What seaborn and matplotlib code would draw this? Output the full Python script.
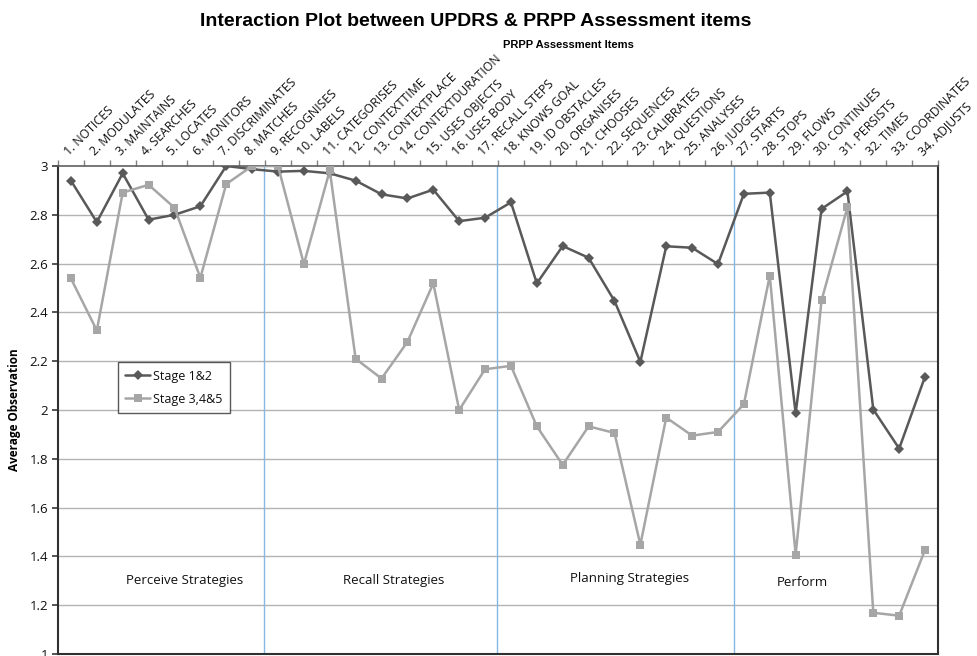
import matplotlib
matplotlib.use("Agg")
import matplotlib.pyplot as plt
import seaborn as sns
import numpy as np
import pandas as pd
from matplotlib.ticker import FixedLocator, FuncFormatter

# PRPP items (top category axis)
items = [
    "1. NOTICES", "2. MODULATES", "3. MAINTAINS", "4. SEARCHES", "5. LOCATES",
    "6. MONITORS", "7. DISCRIMINATES", "8. MATCHES", "9. RECOGNISES", "10. LABELS",
    "11. CATEGORISES", "12. CONTEXTTIME", "13. CONTEXTPLACE", "14. CONTEXTDURATION",
    "15. USES OBJECTS", "16. USES BODY", "17. RECALL STEPS", "18. KNOWS GOAL",
    "19. ID OBSTACLES", "20. ORGANISES", "21. CHOOSES", "22. SEQUENCES",
    "23. CALIBRATES", "24. QUESTIONS", "25. ANALYSES", "26. JUDGES", "27. STARTS",
    "28. STOPS", "29. FLOWS", "30. CONTINUES", "31. PERSISTS", "32. TIMES",
    "33. COORDINATES", "34. ADJUSTS",
]

stage_12 = [2.94, 2.77, 2.97, 2.78, 2.80, 2.835, 3.00, 2.987, 2.977, 2.98,
            2.97, 2.94, 2.884, 2.867, 2.903, 2.774, 2.788, 2.851, 2.519, 2.672,
            2.624, 2.447, 2.197, 2.671, 2.665, 2.598, 2.886, 2.891, 1.986, 2.824,
            2.896, 2.002, 1.842, 2.137]

stage_345 = [2.539, 2.326, 2.891, 2.923, 2.829, 2.542, 2.926, 3.00, 3.00, 2.598,
             2.982, 2.21, 2.129, 2.279, 2.519, 2.00, 2.167, 2.181, 1.933, 1.775,
             1.933, 1.906, 1.448, 1.969, 1.895, 1.910, 2.024, 2.551, 1.407, 2.449,
             2.831, 1.169, 1.157, 1.427]

# strategy group separators and labels
separators = [7.47, 16.45, 25.62]
group_names = ["Perceive Strategies", "Recall Strategies", "Planning Strategies", "Perform"]
group_x = [4.39, 12.47, 21.57, 28.26]
group_y = [1.30, 1.30, 1.31, 1.295]

df = pd.DataFrame({
    "pos": np.tile(np.arange(len(items)), 2),
    "value": stage_12 + stage_345,
    "stage": ["Stage 1&2"] * len(items) + ["Stage 3,4&5"] * len(items),
})

sns.set_theme(style="white")
plt.rcParams["font.family"] = ["Open Sans", "DejaVu Sans"]

fig = plt.figure(figsize=(9.77, 6.56), dpi=100)
ax = fig.add_axes([58 / 977, 2 / 656, 880 / 977, 488 / 656])

for y in np.arange(1.2, 3.0, 0.2):
    ax.axhline(y, color="#b3b3b3", lw=1, zorder=0)
for x in separators:
    ax.axvline(x, color="#86b8e3", lw=1, zorder=1)

palette = {"Stage 1&2": "#595959", "Stage 3,4&5": "#a6a6a6"}
markers = {"Stage 1&2": "D", "Stage 3,4&5": "s"}
for stage, sub in df.groupby("stage"):
    sns.lineplot(data=sub, x="pos", y="value", ax=ax, color=palette[stage],
                 marker=markers[stage], markersize=5 if stage == "Stage 1&2" else 6,
                 markeredgewidth=0, linewidth=1.8, label=stage, zorder=3)

ax.set_xlim(-0.5, len(items) - 0.5)
ax.set_ylim(1, 3)
ax.set_xlabel("")
ax.set_ylabel("")

# category labels on top
ax.xaxis.tick_top()
ax.xaxis.set_major_locator(FixedLocator(np.arange(len(items))))
ax.set_xticklabels(items, rotation=45, ha="left", va="bottom",
                   rotation_mode="anchor", fontsize=8.8, color="#111111")
ax.xaxis.set_minor_locator(FixedLocator(np.arange(len(items) + 1) - 0.5))
ax.tick_params(axis="x", which="major", length=0, pad=6)
ax.tick_params(axis="x", which="minor", length=4, color="#808080", top=True, bottom=False)

ax.yaxis.set_major_locator(FixedLocator(np.arange(1, 3.01, 0.2)))
ax.yaxis.set_major_formatter(FuncFormatter(lambda v, p: f"{v:g}"))
ax.tick_params(axis="y", length=4, color="#404040", labelsize=9.5, pad=3, left=True,
               labelcolor="#111111")

for side in ["left", "bottom", "right"]:
    ax.spines[side].set_color("#303030")
    ax.spines[side].set_linewidth(1.5)
ax.spines["top"].set_color("#606060")
ax.spines["top"].set_linewidth(1.2)

for name, gx, gy in zip(group_names, group_x, group_y):
    ax.text(gx, gy, name, ha="center", va="center", fontsize=9.5, color="#111111")

leg = ax.legend(loc="upper left", bbox_to_anchor=(0.068, 0.598), frameon=True,
                fancybox=False, fontsize=9, handlelength=2.0, borderpad=0.6,
                labelspacing=0.8, handletextpad=0.2, borderaxespad=0)
leg.get_frame().set_edgecolor("#303030")
leg.get_frame().set_linewidth(1)
for t in leg.get_texts():
    t.set_color("#111111")

fig.text(15 / 977, 1 - 410 / 656, "Average Observation", rotation=90, ha="center",
         va="center", fontsize=8.5, fontweight="bold", color="black")
fig.text(568 / 977, 1 - 45 / 656, "PRPP Assessment Items", ha="center", va="center",
         fontsize=8, fontweight="bold", color="black",
         family=["Liberation Sans", "DejaVu Sans"])
fig.text(476 / 977, 1 - 21 / 656, "Interaction Plot between UPDRS & PRPP Assessment items",
         ha="center", va="center", fontsize=14, fontweight="bold", color="black",
         family=["Liberation Sans", "DejaVu Sans"])

fig.savefig("out.png", dpi=100)
